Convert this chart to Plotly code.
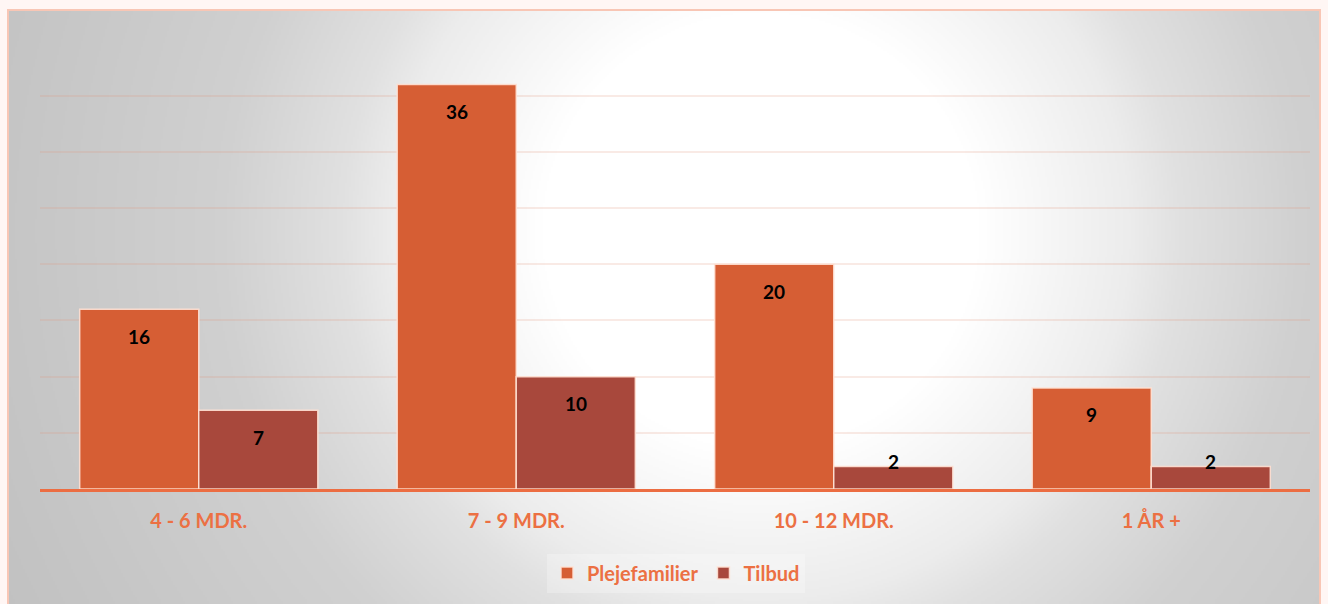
"""Grouped bar chart: Plejefamilier vs Tilbud by duration."""

import base64
import struct
import zlib

import numpy as np
import plotly.graph_objects as go

categories = ["4 - 6 MDR.", "7 - 9 MDR.", "10 - 12 MDR.", "1 ÅR +"]
plejefamilier = [16, 36, 20, 9]
tilbud = [7, 10, 2, 2]

W, H = 1328, 604
ORANGE = "#d65e34"
DARK = "#a8483c"
TEXT_ORANGE = "#ec7043"


def gray_png(arr):
    h, w = arr.shape
    raw = b"".join(b"\x00" + arr[r].tobytes() for r in range(h))

    def chunk(tag, data):
        out = struct.pack(">I", len(data)) + tag + data
        return out + struct.pack(">I", zlib.crc32(tag + data) & 0xFFFFFFFF)

    png = b"\x89PNG\r\n\x1a\n"
    png += chunk(b"IHDR", struct.pack(">IIBBBBB", w, h, 8, 0, 0, 0, 0))
    png += chunk(b"IDAT", zlib.compress(raw, 9))
    png += chunk(b"IEND", b"")
    return "data:image/png;base64," + base64.b64encode(png).decode()


# soft radial background of the chart box (page coords, half resolution)
box_x0, box_y0, box_x1, box_y1 = 8, 10, 1320, 604
gw, gh = (box_x1 - box_x0) // 2, (box_y1 - box_y0) // 2
XX, YY = np.meshgrid(box_x0 + np.arange(gw) * 2, box_y0 + np.arange(gh) * 2)
d = np.hypot(XX - 760, YY - 230)
f = np.interp(d, [0, 220, 370, 420, 540, 740, 850], [1, 1, 0.7, 0.52, 0.26, 0.1, 0.02])
bg = (192 + 63 * f).astype(np.uint8)

idx = list(range(len(categories)))
bw = 0.375
edge = {"color": "rgba(255,225,212,0.9)", "width": 1.5}

fig = go.Figure()
fig.add_trace(go.Bar(
    x=idx, y=plejefamilier, name="Plejefamilier", offset=-bw, width=bw,
    marker={"color": ORANGE, "line": edge},
))
fig.add_trace(go.Bar(
    x=idx, y=tilbud, name="Tilbud", offset=0, width=bw,
    marker={"color": DARK, "line": edge},
))

# value labels near the top of each bar
for series, off in ((plejefamilier, -bw / 2), (tilbud, bw / 2)):
    for i, v in enumerate(series):
        fig.add_annotation(
            x=i + off, y=v, text=f"<b>{v}</b>", showarrow=False,
            yshift=-27 if v >= 5 else 5,
            font={"family": "Lato", "size": 19, "color": "black"},
        )

fig.add_layout_image(
    source=gray_png(bg), xref="paper", yref="paper",
    x=box_x0 / W, y=1 - box_y0 / H, sizex=(box_x1 - box_x0) / W,
    sizey=(box_y1 - box_y0) / H, sizing="stretch", layer="below",
    xanchor="left", yanchor="top",
)
fig.add_shape(
    type="rect", xref="paper", yref="paper",
    x0=box_x0 / W, x1=box_x1 / W, y0=-0.01, y1=1 - box_y0 / H,
    line={"color": "#f8c6b5", "width": 2}, layer="below",
)

fig.update_layout(
    width=W, height=H,
    margin={"l": 0, "r": 0, "t": 0, "b": 0},
    paper_bgcolor="#fff6f4",
    plot_bgcolor="rgba(0,0,0,0)",
    barmode="overlay",
    showlegend=True,
    legend={
        "orientation": "h", "x": 676 / W, "xanchor": "center",
        "y": (H - 573) / H, "yanchor": "middle",
        "bgcolor": "rgba(255,255,255,0.25)",
        "font": {"family": "Lato", "size": 20, "color": TEXT_ORANGE, "weight": "bold"},
        "itemwidth": 30,
    },
    xaxis={
        "domain": [40 / W, 1310 / W], "range": [-0.5, 3.5],
        "tickvals": idx, "ticktext": categories,
        "tickfont": {"family": "Lato", "size": 20, "color": TEXT_ORANGE, "weight": "bold"},
        "showgrid": False, "zeroline": False,
        "showline": True, "linecolor": "#ec6d42", "linewidth": 3,
        "ticks": "outside", "ticklen": 12, "tickcolor": "rgba(0,0,0,0)",
    },
    yaxis={
        "domain": [(H - 489) / H, (H - 39) / H], "range": [0, 40.05],
        "dtick": 5, "showticklabels": False,
        "gridcolor": "rgba(225,150,125,0.2)", "gridwidth": 2,
        "zeroline": False,
    },
)

fig.write_html(
    "out.html",
    config={"displayModeBar": False},
    post_script="document.body.style.margin='0';document.body.style.background='#fff6f4';",
)
